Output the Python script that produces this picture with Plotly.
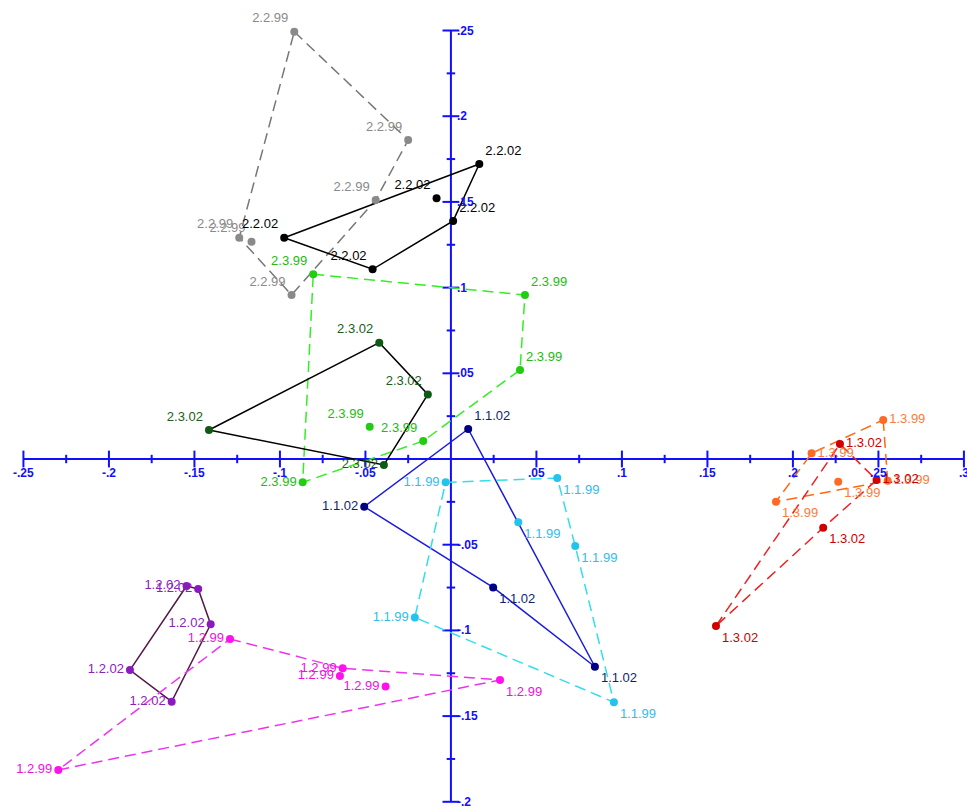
import plotly.graph_objects as go

# ---------------- data ----------------
x_ticks = [-0.25, -0.2, -0.15, -0.1, -0.05, 0.05, 0.1, 0.15, 0.2, 0.25, 0.3]
x_tick_labels = ["-.25", "-.2", "-.15", "-.1", "-.05", ".05", ".1", ".15", ".2", ".25", ".3"]
x_minor = [-0.225, -0.175, -0.125, -0.075, -0.025, 0.025, 0.075, 0.125, 0.175, 0.225, 0.275]
y_ticks = [-0.2, -0.15, -0.1, -0.05, 0.05, 0.1, 0.15, 0.2, 0.25]
y_tick_labels = ["-.2", "-.15", "-.1", "-.05", ".05", ".1", ".15", ".2", ".25"]
y_minor = [-0.175, -0.125, -0.075, -0.025, 0.025, 0.075, 0.125, 0.175, 0.225]

# group: 2.2.99 (grey)
g2299_x = [-0.0916, -0.0250, -0.0440, -0.1238, -0.1166, -0.0932]
g2299_y = [0.2493, 0.1861, 0.1511, 0.1291, 0.1268, 0.0957]
# group: 2.2.02 (black)
g2202_x = [0.0166, -0.0084, 0.0013, -0.0975, -0.0458]
g2202_y = [0.1721, 0.1521, 0.1389, 0.1291, 0.1107]
# group: 2.3.99 (green)
g2399_x = [-0.0805, 0.0433, 0.0404, -0.0475, -0.0162, -0.0867]
g2399_y = [0.1078, 0.0957, 0.0519, 0.0188, 0.0105, -0.0136]
# group: 2.3.02 (dark green)
g2302_x = [-0.0419, -0.0135, -0.1415, -0.0392]
g2302_y = [0.0679, 0.0377, 0.0169, -0.0035]
# group: 1.1.02 (blue)
g1102_x = [0.0101, -0.0507, 0.0247, 0.0842]
g1102_y = [0.0175, -0.0278, -0.0749, -0.1212]
# group: 1.1.99 (cyan)
g1199_x = [-0.0031, 0.0622, 0.0394, 0.0727, -0.0211, 0.0953]
g1199_y = [-0.0136, -0.0111, -0.0369, -0.0508, -0.0924, -0.1419]
# group: 1.3.99 (orange)
g1399_x = [0.2528, 0.2109, 0.2265, 0.2554, 0.1901]
g1399_y = [0.0228, 0.0033, -0.0132, -0.0127, -0.0249]
# group: 1.3.02 (red)
g1302_x = [0.2275, 0.2489, 0.2177, 0.1550]
g1302_y = [0.0088, -0.0123, -0.0401, -0.0974]
# group: 1.2.02 (purple)
g1202_x = [-0.1546, -0.1478, -0.1405, -0.1877, -0.1633]
g1202_y = [-0.0741, -0.0758, -0.0964, -0.1231, -0.1416]
# group: 1.2.99 (magenta)
g1299_x = [-0.1292, -0.0633, -0.0649, -0.0382, 0.0287, -0.2296]
g1299_y = [-0.1050, -0.1221, -0.1266, -0.1328, -0.1289, -0.1814]

groups = [
    # name, xs, ys, outline order, point colour, label colour, line colour, dash, label positions
    ("2.2.99", g2299_x, g2299_y, [0, 1, 2, 5, 3, 0], "#8a8a8a", "#8a8a8a", "#777777", "11px,6px",
     ["top left"] * 6),
    ("2.2.02", g2202_x, g2202_y, [3, 0, 2, 4, 3], "#000000", "#000000", "#000000", "solid",
     ["top right", "top left", "top right", "top left", "top left"]),
    ("2.3.99", g2399_x, g2399_y, [0, 1, 2, 4, 5, 0], "#22cc11", "#22bb11", "#33ee22", "11px,6px",
     ["top left", "top right", "top right", "top left", "top left", "middle left"]),
    ("2.3.02", g2302_x, g2302_y, [2, 0, 1, 3, 2], "#0c5a14", "#1b5e20", "#000000", "solid",
     ["top left", "top left", "top left", "middle left"]),
    ("1.1.02", g1102_x, g1102_y, [0, 3, 2, 1, 0], "#000080", "#0f1f6f", "#1a1ae0", "solid",
     ["top right", "middle left", "bottom right", "bottom right"]),
    ("1.1.99", g1199_x, g1199_y, [0, 1, 3, 5, 4, 0], "#22c4ee", "#33bbee", "#33dded", "11px,6px",
     ["middle left", "bottom right", "bottom right", "bottom right", "middle left", "bottom right"]),
    ("1.3.99", g1399_x, g1399_y, [0, 3, 4, 1, 0], "#ff6a22", "#ff7a3a", "#ff6a10", "11px,6px",
     ["middle right", "middle right", "bottom right", "middle right", "bottom right"]),
    ("1.3.02", g1302_x, g1302_y, [3, 0, 1, 2, 3], "#d00000", "#cc0000", "#ee2020", "11px,6px",
     ["middle right", "middle right", "bottom right", "bottom right"]),
    ("1.2.02", g1202_x, g1202_y, [0, 1, 2, 4, 3, 0], "#8a1ac0", "#8a22b8", "#55184a", "solid",
     ["middle left"] * 5),
    ("1.2.99", g1299_x, g1299_y, [0, 1, 4, 5, 0], "#ff11ee", "#ee11dd", "#ee33ee", "11px,6px",
     ["middle left", "middle left", "middle left", "middle left", "bottom right", "middle left"]),
]

AXIS = "#1010ff"
FONT = "Liberation Sans, Arial, sans-serif"

fig = go.Figure()

# axes lines
fig.add_trace(go.Scatter(x=[x_ticks[0], x_ticks[-1]], y=[0, 0], mode="lines",
                         line=dict(color=AXIS, width=2), hoverinfo="skip"))
fig.add_trace(go.Scatter(x=[0, 0], y=[y_ticks[0], y_ticks[-1]], mode="lines",
                         line=dict(color=AXIS, width=2), hoverinfo="skip"))
# tick marks
fig.add_trace(go.Scatter(x=x_ticks, y=[0] * len(x_ticks), mode="markers",
                         marker=dict(symbol="line-ns", size=12, line=dict(color=AXIS, width=2)),
                         hoverinfo="skip"))
fig.add_trace(go.Scatter(x=x_minor, y=[0] * len(x_minor), mode="markers",
                         marker=dict(symbol="line-ns", size=6, line=dict(color=AXIS, width=2)),
                         hoverinfo="skip"))
fig.add_trace(go.Scatter(x=[0] * len(y_ticks), y=y_ticks, mode="markers",
                         marker=dict(symbol="line-ew", size=12, line=dict(color=AXIS, width=2)),
                         hoverinfo="skip"))
fig.add_trace(go.Scatter(x=[0] * len(y_minor), y=y_minor, mode="markers",
                         marker=dict(symbol="line-ew", size=6, line=dict(color=AXIS, width=2)),
                         hoverinfo="skip"))

# outlines
for name, xs, ys, order, pc, lc, linec, dash, pos in groups:
    fig.add_trace(go.Scatter(x=[xs[i] for i in order], y=[ys[i] for i in order], mode="lines",
                             line=dict(color=linec, width=1.5, dash=dash), hoverinfo="skip"))

# points and labels
for name, xs, ys, order, pc, lc, linec, dash, pos in groups:
    fig.add_trace(go.Scatter(x=xs, y=ys, mode="markers+text", text=[name] * len(xs),
                             textposition=pos,
                             textfont=dict(color=lc, size=13, family=FONT),
                             marker=dict(color=pc, size=8), name=name))

annotations = []
for v, t in zip(x_ticks, x_tick_labels):
    annotations.append(dict(x=v, y=0, xref="x", yref="y", text=t, showarrow=False,
                            xanchor="center", yanchor="top", yshift=-5,
                            font=dict(color=AXIS, size=12, family=FONT, weight="bold")))
for v, t in zip(y_ticks, y_tick_labels):
    annotations.append(dict(x=0, y=v, xref="x", yref="y", text=t, showarrow=False,
                            xanchor="left", yanchor="middle", xshift=4,
                            font=dict(color=AXIS, size=12, family=FONT, weight="bold")))

fig.update_layout(
    width=967, height=809,
    margin=dict(l=0, r=0, t=0, b=0),
    plot_bgcolor="white", paper_bgcolor="white",
    showlegend=False,
    xaxis=dict(range=[-0.2637, 0.3018], visible=False, fixedrange=True),
    yaxis=dict(range=[-0.2042, 0.2678], visible=False, fixedrange=True),
    annotations=annotations,
)

fig.write_html("out.html")
